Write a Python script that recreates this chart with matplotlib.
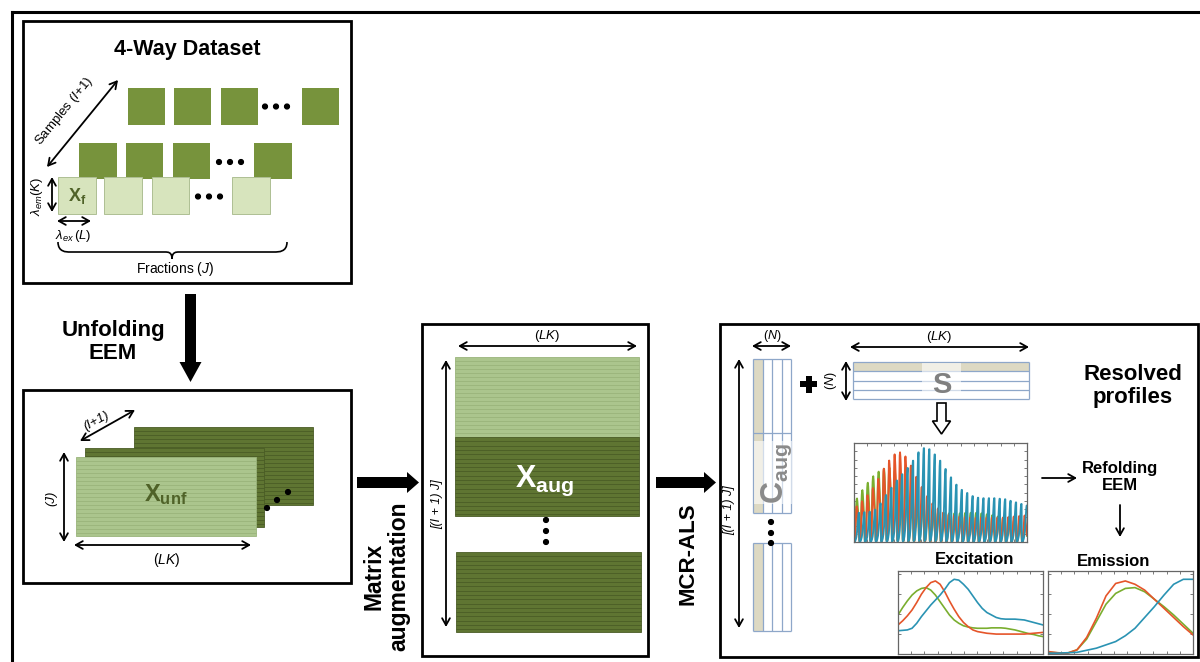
import numpy as np
import matplotlib
matplotlib.use("Agg")
import matplotlib.pyplot as plt
from matplotlib.patches import Rectangle, Polygon, Circle, PathPatch
from matplotlib.path import Path
from matplotlib.ticker import MultipleLocator

plt.rcParams['font.family'] = ['Liberation Sans', 'DejaVu Sans']
plt.rcParams['mathtext.fontset'] = 'custom'
plt.rcParams['mathtext.rm'] = 'Liberation Sans'
plt.rcParams['mathtext.it'] = 'Liberation Sans:italic'
plt.rcParams['mathtext.bf'] = 'Liberation Sans:bold'

# ---------------- resolved profiles (three components) ----------------
component_names = ["comp1", "comp2", "comp3"]
component_colors = ["#7AAE2F", "#E5552A", "#2A93B3"]

# excitation profiles (L = 32 excitation wavelengths)
excitation_green = [0.47, 0.56, 0.64, 0.71, 0.76, 0.79, 0.80, 0.77, 0.71, 0.63,
                    0.55, 0.47, 0.41, 0.37, 0.34, 0.325, 0.315, 0.31, 0.31, 0.31,
                    0.315, 0.315, 0.315, 0.31, 0.30, 0.29, 0.275, 0.26, 0.245,
                    0.235, 0.22, 0.21]
excitation_red = [0.35, 0.40, 0.46, 0.53, 0.62, 0.72, 0.80, 0.86, 0.88, 0.84,
                  0.75, 0.64, 0.54, 0.45, 0.38, 0.33, 0.29, 0.27, 0.26, 0.25,
                  0.245, 0.24, 0.24, 0.24, 0.24, 0.24, 0.24, 0.24, 0.245, 0.25,
                  0.255, 0.26]
excitation_blue = [0.28, 0.285, 0.29, 0.31, 0.37, 0.45, 0.52, 0.59, 0.65, 0.71,
                   0.78, 0.86, 0.90, 0.89, 0.84, 0.78, 0.70, 0.62, 0.55, 0.50,
                   0.47, 0.44, 0.425, 0.42, 0.42, 0.42, 0.415, 0.41, 0.395,
                   0.38, 0.365, 0.35]

# emission profiles (K = 16 emission wavelengths)
emission_green = [0.02, 0.015, 0.01, 0.05, 0.18, 0.39, 0.60, 0.73, 0.79, 0.80,
                  0.75, 0.66, 0.57, 0.47, 0.36, 0.25]
emission_red = [0.03, 0.015, 0.01, 0.05, 0.20, 0.43, 0.70, 0.85, 0.88, 0.84,
                0.77, 0.66, 0.55, 0.44, 0.33, 0.23]
emission_blue = [0.01, 0.01, 0.015, 0.02, 0.045, 0.07, 0.11, 0.15, 0.22, 0.31,
                 0.44, 0.57, 0.71, 0.84, 0.90, 0.90]

excitations = [excitation_green, excitation_red, excitation_blue]
emissions = [emission_green, emission_red, emission_blue]

W, H = 1200, 662
fig = plt.figure(figsize=(12, 6.62), dpi=100)
ax = fig.add_axes([0, 0, 1, 1])
ax.set_xlim(0, W)
ax.set_ylim(H, 0)
ax.axis('off')

DARK = "#5F7532"
DARK_LINE = "#4A5C26"
LIGHT = "#ABC58D"
LIGHT_LINE = "#9AB47B"
SQ_DARK = "#77933C"
SQ_LIGHT = "#D7E4BD"
TXT_GREEN = "#4F6228"
GRID_BLUE = "#8EA7C9"
BEIGE = "#DDD9C3"


def box(x0, y0, x1, y1, lw=2.0):
    ax.add_patch(Rectangle((x0, y0), x1 - x0, y1 - y0, fc='none', ec='black',
                           lw=lw, zorder=2))


def striped(x0, y0, x1, y1, fc, lc, step=4.0, z=3):
    ax.add_patch(Rectangle((x0, y0), x1 - x0, y1 - y0, fc=fc, ec=lc, lw=0.6,
                           zorder=z))
    ys = np.arange(y0 + step, y1 - 0.5, step)
    ax.hlines(ys, x0, x1, colors=lc, lw=0.6, zorder=z + 0.1)


def darrow(p0, p1, lw=1.3, style='<->'):
    ax.annotate('', xy=p1, xytext=p0,
                arrowprops=dict(arrowstyle=f'{style},head_length=0.5,head_width=0.28',
                                lw=lw, color='black', shrinkA=0, shrinkB=0),
                zorder=6)


def dots(points, r=2.4):
    for (x, y) in points:
        ax.add_patch(Circle((x, y), r, color='black', zorder=7))


def block_arrow_down(xc, y0, y1, sw, hw, hl, fc='black', lw=0):
    pts = [(xc - sw / 2, y0), (xc + sw / 2, y0), (xc + sw / 2, y1 - hl),
           (xc + hw / 2, y1 - hl), (xc, y1), (xc - hw / 2, y1 - hl),
           (xc - sw / 2, y1 - hl)]
    ax.add_patch(Polygon(pts, closed=True, fc=fc, ec='black', lw=lw, zorder=6,
                         joinstyle='miter'))


def block_arrow_right(yc, x0, x1, sw, hw, hl):
    pts = [(x0, yc - sw / 2), (x1 - hl, yc - sw / 2), (x1 - hl, yc - hw / 2),
           (x1, yc), (x1 - hl, yc + hw / 2), (x1 - hl, yc + sw / 2),
           (x0, yc + sw / 2)]
    ax.add_patch(Polygon(pts, closed=True, fc='black', ec='none', zorder=6))


# ---------------- outer frame ----------------
ax.plot([12, 12], [H + 2, 11.5], color='black', lw=2.2, solid_capstyle='projecting')
ax.plot([12, W + 2], [11.5, 11.5], color='black', lw=2.2, solid_capstyle='projecting')

# ---------------- 4-way dataset ----------------
box(23, 20.5, 351, 283)
ax.text(187, 50, "4-Way Dataset", fontsize=15.5, fontweight='bold',
        ha='center', va='center')

sq_top = [(128, 165), (174, 211), (221, 258), (302, 339)]
sq_mid = [(79, 117), (126, 163), (173, 210), (254, 292)]
sq_low = [(58, 96), (104, 142), (152, 189), (232, 270)]
for x0, x1 in sq_top:
    ax.add_patch(Rectangle((x0, 88), x1 - x0, 37, fc=SQ_DARK, ec='none', zorder=3))
for x0, x1 in sq_mid:
    ax.add_patch(Rectangle((x0, 143), x1 - x0, 36, fc=SQ_DARK, ec='none', zorder=3))
for x0, x1 in sq_low:
    ax.add_patch(Rectangle((x0, 177), x1 - x0, 37, fc=SQ_LIGHT, ec="#AEBF93",
                           lw=0.7, zorder=4))
dots([(265, 106.5), (276, 106.5), (287, 106.5)])
dots([(219, 162), (230, 162), (241, 162)])
dots([(198, 196.5), (209, 196.5), (220, 196.5)])

ax.text(77, 196, r'$\mathbf{X}_{\mathbf{f}}$', fontsize=13, color=TXT_GREEN,
        ha='center', va='center', zorder=8)

darrow((47, 167), (118, 80))
ax.text(64, 111, r'Samples $\mathit{(I{+}1)}$', fontsize=9.5, rotation=51,
        ha='center', va='center', rotation_mode='anchor')
darrow((52, 177), (52, 212))
ax.text(37, 196, r'$\lambda_{em}\mathit{(K)}$', fontsize=9.5, rotation=90,
        ha='center', va='center')
darrow((57, 221), (91, 221))
ax.text(73, 236, r'$\lambda_{ex}\,\mathit{(L)}$', fontsize=9.5,
        ha='center', va='center')

# curly brace under the fractions
brace = Path([(58, 242), (58, 252), (66, 252), (70, 252),
              (165, 252), (168, 252), (172, 252), (172, 259),
              (172, 252), (176, 252), (179, 252),
              (274, 252), (279, 252), (287, 252), (287, 242)],
             [Path.MOVETO, Path.CURVE4, Path.CURVE4, Path.CURVE4,
              Path.LINETO, Path.CURVE4, Path.CURVE4, Path.CURVE4,
              Path.CURVE4, Path.CURVE4, Path.CURVE4,
              Path.LINETO, Path.CURVE4, Path.CURVE4, Path.CURVE4])
ax.add_patch(PathPatch(brace, fc='none', ec='black', lw=1.2, zorder=5))
ax.text(175, 269, r'Fractions $\mathit{(J)}$', fontsize=10, ha='center', va='center')

# ---------------- unfolding ----------------
block_arrow_down(190.5, 294, 382, 11, 22, 20)
ax.text(113, 342, "Unfolding\nEEM", fontsize=16, fontweight='bold',
        ha='center', va='center', linespacing=1.15)

box(23, 390, 351, 583)
striped(134, 427, 313, 505, DARK, DARK_LINE, z=3)
striped(85, 448, 264, 527, DARK, DARK_LINE, z=3.3)
striped(76, 457, 256, 536, LIGHT, LIGHT_LINE, z=3.6)
dots([(267, 508), (277, 500), (288, 492)])
ax.text(166, 495, r'$\mathbf{X}_{\mathbf{unf}}$', fontsize=17, color=TXT_GREEN,
        ha='center', va='center', zorder=8)
darrow((80, 441), (135, 410))
ax.text(96, 421, '(I+1)', fontsize=9.5, style='italic', rotation=29,
        ha='center', va='center', rotation_mode='anchor')
darrow((64, 452), (64, 542))
ax.text(51, 498, '(J)', fontsize=9.5, style='italic', rotation=90,
        ha='center', va='center')
darrow((74, 545), (251, 545))
ax.text(167, 560, r'($\mathit{LK}$)', fontsize=10, ha='center', va='center')

# ---------------- matrix augmentation ----------------
block_arrow_right(482.5, 357, 419, 11, 21, 12)
ax.text(386, 576, "Matrix\naugmentation", fontsize=16.5, fontweight='bold',
        rotation=90, ha='center', va='center', linespacing=1.1)

box(422, 324, 648, 656)
ax.text(547, 336, r'($\mathit{LK}$)', fontsize=9.5, ha='center', va='center')
darrow((458, 346), (637, 346))
darrow((446, 360), (446, 627))
ax.text(437, 504, '[(I + 1) J]', fontsize=9, style='italic', rotation=90,
        ha='center', va='center')
striped(455, 357, 639, 437, LIGHT, LIGHT_LINE, z=3)
striped(455, 437, 639, 516, DARK, DARK_LINE, step=4.3, z=3.3)
striped(456, 552, 641, 632, DARK, DARK_LINE, step=4.3, z=3)
dots([(546, 520), (546, 531), (546, 542)])
ax.text(545, 481, r'$\mathbf{X}_{\mathbf{aug}}$', fontsize=22, color='white',
        ha='center', va='center', zorder=8)

# ---------------- MCR-ALS ----------------
block_arrow_right(482.5, 656, 716, 11, 21, 12)
ax.text(688, 554, "MCR-ALS", fontsize=16, fontweight='bold', rotation=90,
        ha='center', va='center')

box(720, 324, 1198, 657)

# C_aug (concentration profiles)
col_edges = [753, 763, 772, 782, 791]
for (y0, y1) in [(359, 513), (543, 631)]:
    ax.add_patch(Rectangle((753, y0), 10, y1 - y0, fc=BEIGE, ec='none', zorder=3))
    ax.vlines(col_edges, y0, y1, colors=GRID_BLUE, lw=0.9, zorder=4)
    ax.hlines([y0, y1], 753, 791, colors=GRID_BLUE, lw=0.9, zorder=4)
ax.hlines([433], 753, 791, colors=GRID_BLUE, lw=0.9, zorder=4)
ax.add_patch(Rectangle((754, 441), 38, 63, fc='white', ec='none', alpha=0.6,
                       zorder=5))
ax.text(777, 474, r'$\mathbf{C}_{\mathbf{aug}}$', fontsize=22, color='#8A8A8A',
        rotation=90, ha='center', va='center', zorder=6)
dots([(771, 522), (771, 533), (771, 543)])
ax.text(772, 336, r'($\mathit{N}$)', fontsize=9, ha='center', va='center')
darrow((752, 346), (791, 346))
darrow((739, 359), (739, 628))
ax.text(729, 510, '[(I + 1) J]', fontsize=9, style='italic', rotation=90,
        ha='center', va='center')

# plus sign
ax.add_patch(Rectangle((800, 381), 17, 6, fc='black', ec='none', zorder=6))
ax.add_patch(Rectangle((805.5, 375.5), 6, 17, fc='black', ec='none', zorder=6))

# S (spectral profiles)
ax.add_patch(Rectangle((853, 362), 176, 9, fc=BEIGE, ec='none', zorder=3))
ax.hlines([362, 371, 381, 390, 399], 853, 1029, colors=GRID_BLUE, lw=0.9, zorder=4)
ax.vlines([853, 1029], 362, 399, colors=GRID_BLUE, lw=0.9, zorder=4)
ax.add_patch(Rectangle((922, 363), 39, 35, fc='white', ec='none', alpha=0.6,
                       zorder=5))
ax.text(942, 385, r'$\mathbf{S}$', fontsize=21, color='#808080',
        ha='center', va='center', zorder=6)
ax.text(939, 337, r'($\mathit{LK}$)', fontsize=9.5, ha='center', va='center')
darrow((850, 347), (1029, 347))
darrow((846, 361), (846, 401))
ax.text(831, 381, r'($\mathit{N}$)', fontsize=9, rotation=90,
        ha='center', va='center')

block_arrow_down(941.5, 403, 434, 9, 18, 13, fc='white', lw=1.2)

ax.text(1133, 386, "Resolved\nprofiles", fontsize=16, fontweight='bold',
        ha='center', va='center', linespacing=1.15)
darrow((1042, 478), (1077, 478), style='->')
ax.text(1120, 477, "Refolding\nEEM", fontsize=12, fontweight='bold',
        ha='center', va='center', linespacing=1.2)
darrow((1120, 505), (1120, 537), style='->')
ax.text(975, 560, "Excitation", fontsize=12, fontweight='bold',
        ha='center', va='center')
ax.text(1114, 562, "Emission", fontsize=12, fontweight='bold',
        ha='center', va='center')


def inset(x0, y0, x1, y1):
    a = fig.add_axes([x0 / W, 1 - y1 / H, (x1 - x0) / W, (y1 - y0) / H])
    for s in a.spines.values():
        s.set_color('#666666')
        s.set_linewidth(0.9)
    a.tick_params(direction='in', length=2, width=0.6, color='#666666',
                  top=True, right=True, labelbottom=False, labelleft=False)
    return a


# unfolded spectral profiles: excitation x emission for each component
axs = inset(854, 443, 1027, 542)
for ex, em, c in zip(excitations, emissions, component_colors):
    s_row = np.kron(np.asarray(ex), np.asarray(em))
    axs.plot(np.arange(s_row.size), s_row, color=c, lw=1.35)
n_s = len(excitation_red) * len(emission_red)
axs.set_xlim(0, n_s - 1)
axs.set_ylim(0, 0.855)
axs.xaxis.set_major_locator(MultipleLocator(n_s / 13))
axs.yaxis.set_major_locator(MultipleLocator(0.855 / 12))

axe = inset(898, 571, 1043, 654)
for ex, c in zip(excitations, component_colors):
    axe.plot(np.arange(len(ex)), ex, color=c, lw=1.2)
axe.set_xlim(0, len(excitation_red) - 1)
axe.set_ylim(0, 1)
axe.xaxis.set_major_locator(MultipleLocator((len(excitation_red) - 1) / 11))
axe.yaxis.set_major_locator(MultipleLocator(0.24))

axm = inset(1048, 571, 1193, 654)
for em, c in zip(emissions, component_colors):
    axm.plot(np.arange(len(em)), em, color=c, lw=1.2)
axm.set_xlim(0, len(emission_red) - 1)
axm.set_ylim(0, 1)
axm.xaxis.set_major_locator(MultipleLocator((len(emission_red) - 1) / 11))
axm.yaxis.set_major_locator(MultipleLocator(0.24))

fig.savefig("out.png", dpi=100)
